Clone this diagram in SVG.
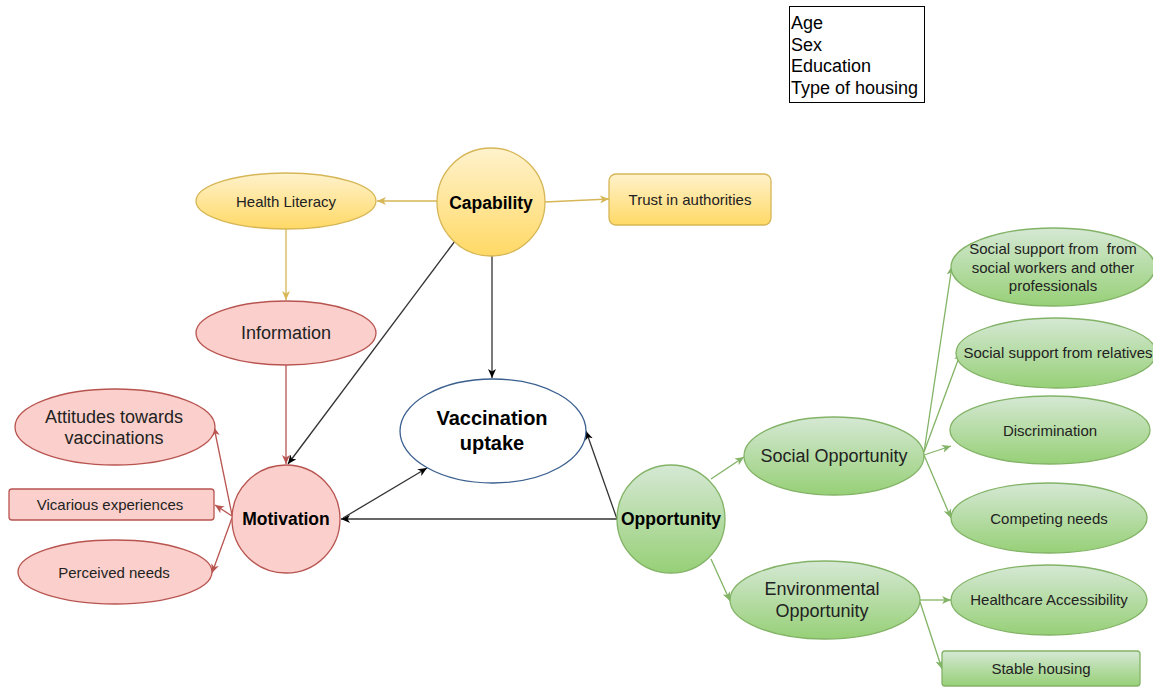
<svg xmlns="http://www.w3.org/2000/svg" width="1153" height="687" viewBox="0 0 1153 687">
<style>
text{font-family:"Liberation Sans",Arial,sans-serif;fill:#222;text-anchor:middle;dominant-baseline:central;white-space:pre}
.b{font-weight:bold;fill:#000}
.s14{font-size:15px}
.s17{font-size:18px}
.gold{fill:url(#gGold);stroke:#d6b656;stroke-width:1.3}
.red{fill:#fbd0cc;stroke:#b85450;stroke-width:1.3}
.green{fill:url(#gGreen);stroke:#82b366;stroke-width:1.3}
.cg{stroke:#d6b656;stroke-width:1.3;fill:none;marker-end:url(#aGold)}
.cr{stroke:#b85450;stroke-width:1.3;fill:none;marker-end:url(#aRed)}
.ck{stroke:#333;stroke-width:1.3;fill:none;marker-end:url(#aBlack)}
.cn{stroke:#82b366;stroke-width:1.3;fill:none;marker-end:url(#aGreen)}
.leg{text-anchor:start;font-size:18px;dominant-baseline:auto;fill:#000}
</style>
<defs>
<linearGradient id="gGold" x1="0" y1="0" x2="0" y2="1"><stop offset="0" stop-color="#fff2cc"/><stop offset="1" stop-color="#ffd966"/></linearGradient>
<linearGradient id="gGreen" x1="0" y1="0" x2="0" y2="1"><stop offset="0" stop-color="#d5e8d4"/><stop offset="1" stop-color="#97d077"/></linearGradient>
<marker id="aGold" markerUnits="userSpaceOnUse" markerWidth="10" markerHeight="8" refX="9" refY="4" orient="auto"><path d="M0,0 L9,4 L0,8 L2.5,4 z" fill="#d6b656"/></marker>
<marker id="aRed" markerUnits="userSpaceOnUse" markerWidth="10" markerHeight="8" refX="9" refY="4" orient="auto"><path d="M0,0 L9,4 L0,8 L2.5,4 z" fill="#b85450"/></marker>
<marker id="aBlack" markerUnits="userSpaceOnUse" markerWidth="10" markerHeight="8" refX="9" refY="4" orient="auto"><path d="M0,0 L9,4 L0,8 L2.5,4 z" fill="#000"/></marker>
<marker id="aGreen" markerUnits="userSpaceOnUse" markerWidth="10" markerHeight="8" refX="9" refY="4" orient="auto"><path d="M0,0 L9,4 L0,8 L2.5,4 z" fill="#82b366"/></marker>
</defs>
<rect width="1153" height="687" fill="#fff"/>

<g id="connectors">
<path class="cg" d="M437,201 L377,201"/>
<path class="cg" d="M545,202 L609,199"/>
<path class="cg" d="M286,229 L286,300"/>
<path class="cr" d="M286,365 L286,464"/>
<path class="ck" d="M455,241 L288,464"/>
<path class="ck" d="M492,256 L492,378"/>
<path class="ck" d="M617,519 L341,519"/>
<path class="ck" d="M617,519 L586,431"/>
<path class="ck" d="M343,518 L427,468"/>
<path class="cr" d="M232,515 L214,427"/>
<path class="cr" d="M232,516 L215,505"/>
<path class="cr" d="M232,518 L212,573"/>
<path class="cn" d="M711,479 L744,457"/>
<path class="cn" d="M711,559 L730,601"/>
<path class="cn" d="M924,452 L952,266"/>
<path class="cn" d="M924,452 L961,352"/>
<path class="cn" d="M924,455 L951,446"/>
<path class="cn" d="M924,455 L951,518"/>
<path class="cn" d="M920,600 L951,600"/>
<path class="cn" d="M920,602 L942,669"/>
</g>

<g id="legend">
<rect x="789.5" y="6.5" width="135" height="96" fill="#fff" stroke="#000" stroke-width="1"/>
<text class="leg" x="791" y="29">Age</text>
<text class="leg" x="791" y="51">Sex</text>
<text class="leg" x="791" y="72">Education</text>
<text class="leg" x="791" y="94">Type of housing</text>
</g>

<g id="capability"><circle class="gold" cx="491" cy="202" r="54"/><text class="b" x="491" y="203" style="font-size:17.5px">Capability</text></g>
<g id="health-literacy"><ellipse class="gold" cx="286" cy="201" rx="90" ry="28"/><text class="s14" x="286" y="201">Health Literacy</text></g>
<g id="trust"><rect class="gold" x="609" y="174" width="162" height="51" rx="7"/><text class="s14" x="690" y="199">Trust in authorities</text></g>
<g id="information"><ellipse class="red" cx="286" cy="333" rx="90" ry="32"/><text class="s17" x="286" y="333">Information</text></g>
<g id="motivation"><circle class="red" cx="286" cy="519" r="54"/><text class="b" x="286" y="519" style="font-size:17.5px">Motivation</text></g>
<g id="attitudes"><ellipse class="red" cx="115" cy="427" rx="100" ry="38"/><text class="s17" x="114" y="417">Attitudes towards</text><text class="s17" x="114" y="438">vaccinations</text></g>
<g id="vicarious"><rect class="red" x="9" y="489" width="205" height="31" rx="3"/><text class="s14" x="110" y="504">Vicarious experiences</text></g>
<g id="perceived"><ellipse class="red" cx="115" cy="572" rx="97" ry="32"/><text class="s14" x="114" y="572">Perceived needs</text></g>
<g id="vaccination"><ellipse cx="493" cy="431" rx="93" ry="52" fill="#fff" stroke="#3a5f8f" stroke-width="1.3"/><text class="b" x="492" y="418" style="font-size:20px">Vaccination</text><text class="b" x="492" y="443" style="font-size:20px">uptake</text></g>
<g id="opportunity"><circle class="green" cx="671" cy="519" r="54"/><text class="b" x="671" y="519" style="font-size:17.5px">Opportunity</text></g>
<g id="social-opportunity"><ellipse class="green" cx="834" cy="456" rx="90" ry="39"/><text class="s17" x="834" y="456">Social Opportunity</text></g>
<g id="environmental-opportunity"><ellipse class="green" cx="825" cy="600" rx="95" ry="39"/><text class="s17" x="822" y="589">Environmental</text><text class="s17" x="822" y="611">Opportunity</text></g>
<g id="social-support-professionals"><ellipse class="green" cx="1053" cy="267" rx="102" ry="39"/><text class="s14" x="1053" y="248">Social support from  from</text><text class="s14" x="1053" y="267">social workers and other</text><text class="s14" x="1053" y="285">professionals</text></g>
<g id="social-support-relatives"><ellipse class="green" cx="1056" cy="353" rx="100" ry="35"/><text class="s14" x="1058" y="352">Social support from relatives</text></g>
<g id="discrimination"><ellipse class="green" cx="1050" cy="430" rx="100" ry="34"/><text class="s14" x="1050" y="430">Discrimination</text></g>
<g id="competing-needs"><ellipse class="green" cx="1049" cy="518" rx="98" ry="35"/><text class="s14" x="1049" y="518">Competing needs</text></g>
<g id="healthcare-accessibility"><ellipse class="green" cx="1049" cy="600" rx="98" ry="35"/><text class="s14" x="1049" y="599">Healthcare Accessibility</text></g>
<g id="stable-housing"><rect class="green" x="942" y="651" width="198" height="35" rx="3"/><text class="s14" x="1041" y="668">Stable housing</text></g>
</svg>
